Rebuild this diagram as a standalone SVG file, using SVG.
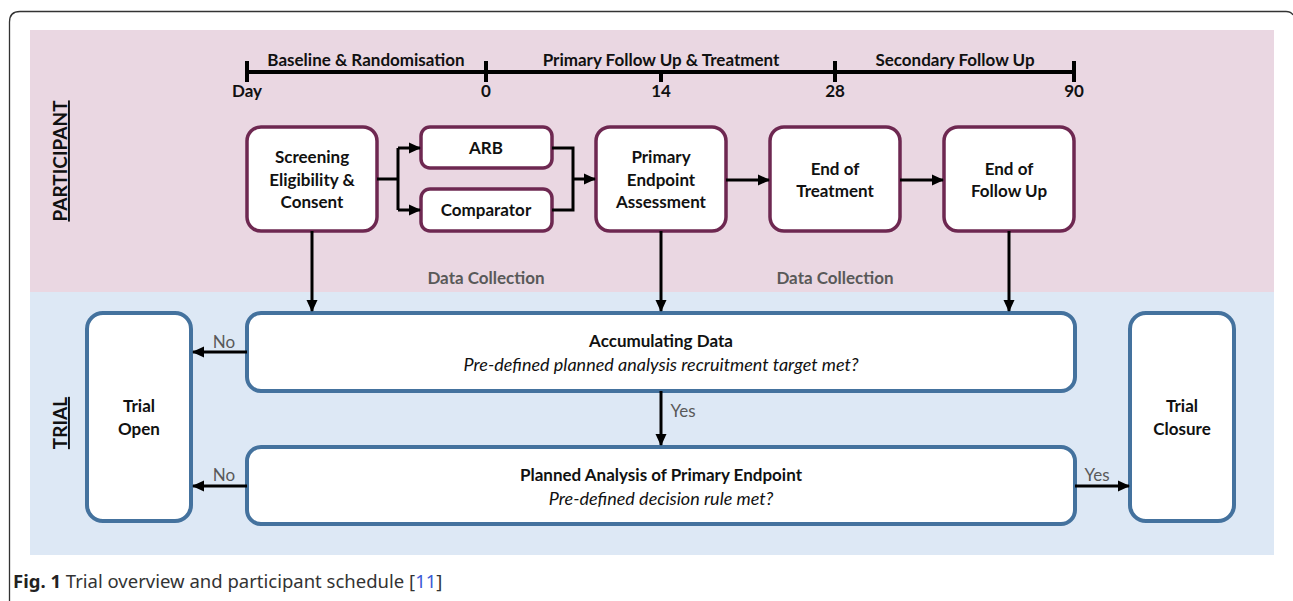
<svg xmlns="http://www.w3.org/2000/svg" width="1293" height="601" viewBox="0 0 1293 601">
<defs>
<marker id="ah" markerUnits="userSpaceOnUse" markerWidth="12" markerHeight="12" viewBox="0 0 12 12" refX="11" refY="6" orient="auto">
<path d="M0,0.5 L12,6 L0,11.5 Z" fill="#000"/>
</marker>
<style>
text{font-family:Lato,"Open Sans","Liberation Sans",sans-serif;}
.t{font-size:17px;font-weight:bold;fill:#111;text-anchor:middle;}
.g{font-size:17px;font-weight:bold;fill:#595959;text-anchor:middle;}
.gl{font-size:17px;fill:#595959;text-anchor:middle;}
.it{font-size:18px;font-style:italic;fill:#111;text-anchor:middle;}
.pb{fill:#fff;stroke:#6e2851;stroke-width:3.5;}
.bb{fill:#fff;stroke:#44729e;stroke-width:4;}
.ln{fill:none;stroke:#000;stroke-width:3;}
.ax{fill:none;stroke:#000;stroke-width:4;}
.lane{font-size:19px;font-weight:bold;fill:#111;text-anchor:middle;text-decoration:underline;}
</style>
</defs>
<rect width="1293" height="601" fill="#fff"/>
<path d="M9.5,601 V22 Q9.5,11.5 20,11.5 H1286 Q1291,11.5 1293,15" fill="none" stroke="#333" stroke-width="1.3"/>
<rect x="30" y="30" width="1244" height="262" fill="#ead7e2"/>
<rect x="30" y="292" width="1244" height="263" fill="#dde8f5"/>

<g id="lanes">
<text class="lane" transform="translate(67,161) rotate(-90)">PARTICIPANT</text>
<text class="lane" transform="translate(67,423) rotate(-90)">TRIAL</text>
</g>

<g id="timeline">
<path class="ax" d="M247,72 H1074 M247,61 V82 M486,61 V82 M661,72 V82 M835,61 V82 M1074,61 V82"/>
<text class="t" x="366" y="66">Baseline &amp; Randomisation</text>
<text class="t" x="661" y="66">Primary Follow Up &amp; Treatment</text>
<text class="t" x="955" y="66">Secondary Follow Up</text>
<text class="t" x="247" y="97">Day</text>
<text class="t" x="486" y="97">0</text>
<text class="t" x="661" y="97">14</text>
<text class="t" x="835" y="97">28</text>
<text class="t" x="1074" y="97">90</text>
</g>

<g id="screening">
<rect class="pb" x="247" y="127" width="130" height="104" rx="14"/>
<text class="t" x="312" y="163">Screening</text>
<text class="t" x="312" y="186">Eligibility &amp;</text>
<text class="t" x="312" y="208">Consent</text>
</g>
<g id="arb">
<rect class="pb" x="421" y="127" width="131" height="41" rx="9"/>
<text class="t" x="486" y="154">ARB</text>
</g>
<g id="comparator">
<rect class="pb" x="421" y="189" width="131" height="42" rx="9"/>
<text class="t" x="486" y="216">Comparator</text>
</g>
<g id="primary">
<rect class="pb" x="596" y="127" width="130" height="104" rx="14"/>
<text class="t" x="661" y="163">Primary</text>
<text class="t" x="661" y="186">Endpoint</text>
<text class="t" x="661" y="208">Assessment</text>
</g>
<g id="endtreatment">
<rect class="pb" x="770" y="127" width="130" height="104" rx="14"/>
<text class="t" x="835" y="175">End of</text>
<text class="t" x="835" y="197">Treatment</text>
</g>
<g id="endfollowup">
<rect class="pb" x="944" y="127" width="130" height="104" rx="14"/>
<text class="t" x="1009" y="175">End of</text>
<text class="t" x="1009" y="197">Follow Up</text>
</g>

<g id="accumulating">
<rect class="bb" x="247" y="313" width="828" height="78" rx="14"/>
<text class="t" x="661" y="347">Accumulating Data</text>
<text class="it" x="661" y="371">Pre-defined planned analysis recruitment target met?</text>
</g>
<g id="planned">
<rect class="bb" x="247" y="447" width="828" height="77" rx="14"/>
<text class="t" x="661" y="481">Planned Analysis of Primary Endpoint</text>
<text class="it" x="661" y="505">Pre-defined decision rule met?</text>
</g>
<g id="trialopen">
<rect class="bb" x="87" y="313" width="104" height="208" rx="16"/>
<text class="t" x="139" y="412">Trial</text>
<text class="t" x="139" y="435">Open</text>
</g>
<g id="trialclosure">
<rect class="bb" x="1130" y="313" width="104" height="208" rx="16"/>
<text class="t" x="1182" y="412">Trial</text>
<text class="t" x="1182" y="435">Closure</text>
</g>

<g id="connectors">
<path class="ln" d="M377,179 H398 M398,148 V210"/>
<path class="ln" d="M398,148 H420" marker-end="url(#ah)"/>
<path class="ln" d="M398,210 H420" marker-end="url(#ah)"/>
<path class="ln" d="M552,148 H573 V210 H552"/>
<path class="ln" d="M573,179 H595" marker-end="url(#ah)"/>
<path class="ln" d="M726,180 H769" marker-end="url(#ah)"/>
<path class="ln" d="M900,180 H943" marker-end="url(#ah)"/>
<path class="ln" d="M312,231 V311" marker-end="url(#ah)"/>
<path class="ln" d="M661,231 V311" marker-end="url(#ah)"/>
<path class="ln" d="M1009,231 V311" marker-end="url(#ah)"/>
<path class="ln" d="M661,391 V445" marker-end="url(#ah)"/>
<path class="ln" d="M247,352 H193" marker-end="url(#ah)"/>
<path class="ln" d="M247,486 H193" marker-end="url(#ah)"/>
<path class="ln" d="M1075,486 H1129" marker-end="url(#ah)"/>
<text class="g" x="486" y="284">Data Collection</text>
<text class="g" x="835" y="284">Data Collection</text>
<text class="gl" x="224" y="348">No</text>
<text class="gl" x="224" y="481">No</text>
<text class="gl" x="683" y="417">Yes</text>
<text class="gl" x="1097" y="481">Yes</text>
</g>

<g id="caption">
<text x="13" y="588" style="font-family:'Noto Sans','Open Sans',sans-serif;font-size:18.5px;fill:#333"><tspan font-weight="bold" fill="#222">Fig. 1</tspan> Trial overview and participant schedule [<tspan fill="#3b5bd6">11</tspan>]</text>
</g>
</svg>
